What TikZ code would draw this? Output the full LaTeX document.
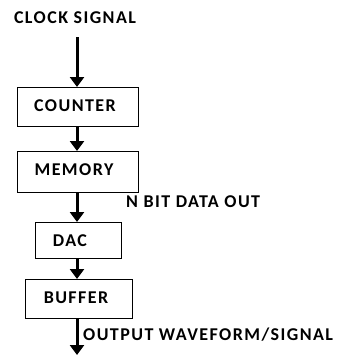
\documentclass[tikz,border=0pt]{standalone}
\usepackage{fontspec}
\setmainfont{Carlito}[LetterSpace=8]
\usetikzlibrary{arrows.meta}
\begin{document}
\begin{tikzpicture}[x=1pt,y=-1pt,
  blk/.style={draw, line width=1.3pt, inner sep=0pt, anchor=north west},
  lbl/.style={font=\fontsize{18}{21}\selectfont\bfseries, inner sep=0pt},
  flow/.style={line width=3pt, -{Triangle[width=14pt,length=10pt]}}]
\useasboundingbox (0,0) rectangle (351,356);

% column of the signal path
\coordinate (col) at (77,0);
\coordinate (in) at (77,37);
\coordinate (out) at (77,355);

% blocks
\node[blk, minimum width=121pt, minimum height=39pt] (counter) at (17,87) {};
\node[blk, minimum width=121pt, minimum height=41pt] (memory) at (17,151) {};
\node[blk, minimum width=86pt, minimum height=36pt] (dac) at (35,222) {};
\node[blk, minimum width=107pt, minimum height=39pt] (buffer) at (25,279) {};

% block labels
\node[lbl] (clock) at (75,18) {CLOCK SIGNAL};
\node[lbl] (tcounter) at (75,106) {COUNTER};
\node[lbl] (tmemory) at (74,170) {MEMORY};
\node[lbl] (tdac) at (70,241) {DAC};
\node[lbl] (tbuffer) at (76,298) {BUFFER};
\node[lbl, anchor=west] (nbit) at (126,202) {N BIT DATA OUT};
\node[lbl, anchor=west] (output) at (83,335) {OUTPUT WAVEFORM/SIGNAL};

% connectors
\draw[flow] (in) -- (counter.north -| col);
\draw[flow] (counter.south -| col) -- (memory.north -| col);
\draw[flow] (memory.south -| col) -- (dac.north -| col);
\draw[flow] (dac.south -| col) -- (buffer.north -| col);
\draw[flow] (buffer.south -| col) -- (out);
\end{tikzpicture}
\end{document}
